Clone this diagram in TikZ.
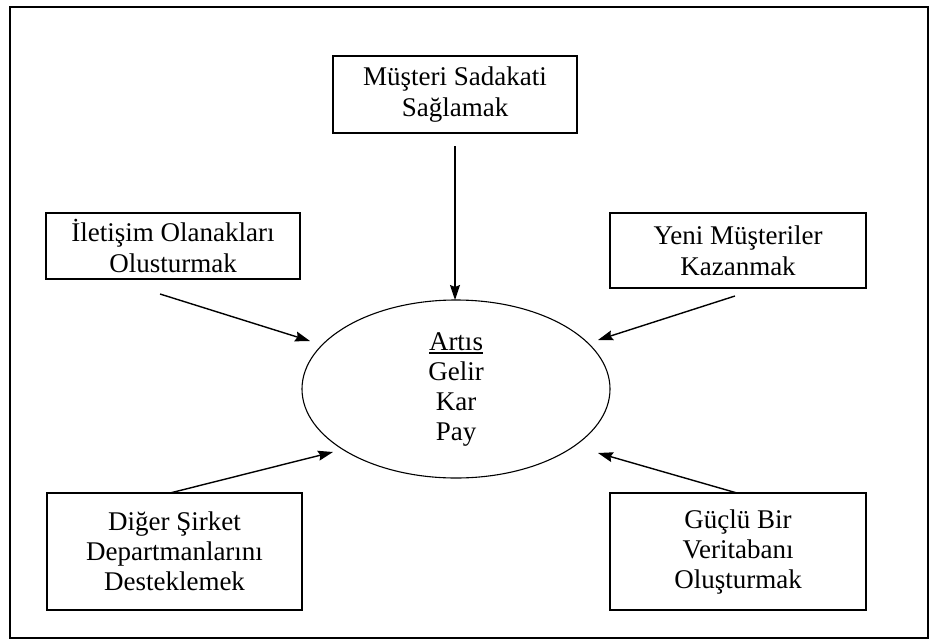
\documentclass[tikz,border=0pt]{standalone}
\usepackage{fontspec}
\setmainfont{Liberation Serif}
\usetikzlibrary{arrows.meta,shapes.geometric}
\newcommand{\thickul}[1]{\setbox0\hbox{#1}\leavevmode\rlap{\rule[-3.5pt]{\wd0}{1.6pt}}\box0}
\begin{document}
\begin{tikzpicture}[x=1pt,y=-1pt,
  box/.style={draw, line width=1.1pt, align=center, inner sep=0pt,
    font=\fontsize{27}{31}\selectfont},
  ellbox/.style={draw, ellipse, line width=1.1pt, align=center, inner sep=0pt,
    font=\fontsize{27}{30}\selectfont},
  arr/.style={line width=1.4pt, -{Stealth[length=15pt,width=10pt,inset=2pt]}},
  frame/.style={draw, line width=1.6pt}]
\useasboundingbox (0,0) rectangle (933,640);
\draw[frame] (10,7) rectangle (928,638);

\node[box, minimum width=244pt, minimum height=77pt] (top) at (455,94.5)
  {Müşteri Sadakati\\Sağlamak};
\node[box, minimum width=254pt, minimum height=66pt] (lt) at (173,246)
  {İletişim Olanakları\\Olusturmak};
\node[box, minimum width=256pt, minimum height=75pt] (rt) at (738,250.5)
  {Yeni Müşteriler\\Kazanmak};
\node[box, minimum width=255pt, minimum height=117pt, font=\fontsize{27}{30}\selectfont] (lb) at (174.5,551.5)
  {Diğer Şirket\\Departmanlarını\\Desteklemek};
\node[box, minimum width=256pt, minimum height=117pt, font=\fontsize{27}{30}\selectfont] (rb) at (738,551.5)
  {Güçlü Bir\\Veritabanı\\Oluşturmak};
\node[ellbox, minimum width=308pt, minimum height=178pt] (ell) at (456,389)
  {\thickul{Artıs}\\Gelir\\Kar\\Pay};

\coordinate (s1) at (455,146);  \coordinate (t1) at (455,300);
\coordinate (s2) at (160,294);  \coordinate (t2) at (310,341);
\coordinate (s3) at (735,296);  \coordinate (t3) at (598,340);
\coordinate (s4) at (170,493);  \coordinate (t4) at (333,452);
\coordinate (s5) at (737,493);  \coordinate (t5) at (598,453);

\draw[arr] (s1) -- (t1);
\draw[arr] (s2) -- (t2);
\draw[arr] (s3) -- (t3);
\draw[arr] (s4) -- (t4);
\draw[arr] (s5) -- (t5);
\end{tikzpicture}
\end{document}
